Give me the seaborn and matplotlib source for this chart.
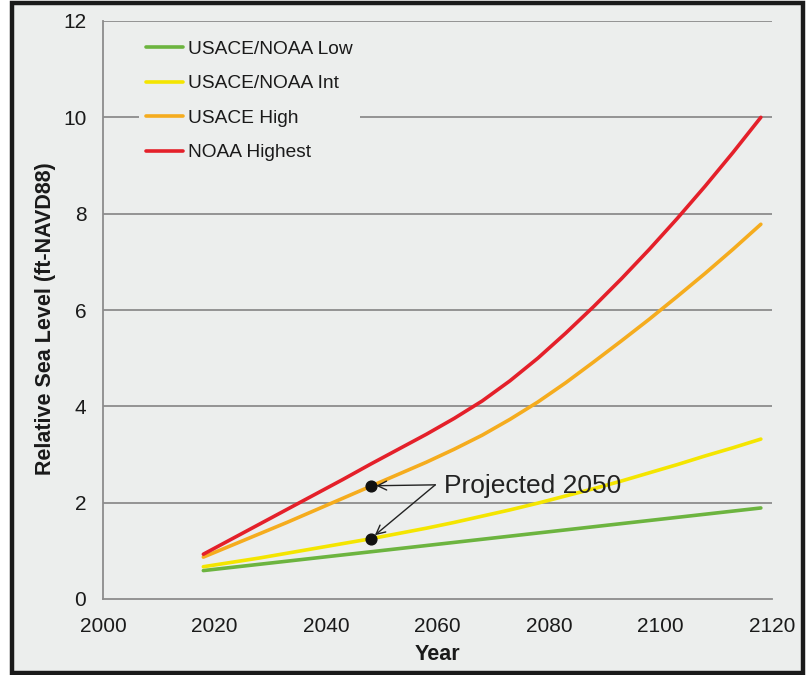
import matplotlib
matplotlib.use("Agg")
import matplotlib.pyplot as plt
import matplotlib.patches as mpatches
import seaborn as sns
import pandas as pd

# ---- data ----
years = [2018, 2023, 2028, 2033, 2038, 2043, 2048, 2053, 2058, 2063, 2068,
         2073, 2078, 2083, 2088, 2093, 2098, 2103, 2108, 2113, 2118]
low = [0.59, 0.655, 0.72, 0.785, 0.85, 0.915, 0.98, 1.045, 1.11, 1.175, 1.24,
       1.305, 1.37, 1.435, 1.50, 1.565, 1.63, 1.695, 1.76, 1.825, 1.89]
intermediate = [0.67, 0.76, 0.85, 0.95, 1.05, 1.15, 1.25, 1.36, 1.47, 1.59, 1.72,
                1.85, 1.99, 2.14, 2.29, 2.45, 2.62, 2.79, 2.97, 3.14, 3.32]
high = [0.87, 1.11, 1.35, 1.59, 1.84, 2.09, 2.34, 2.59, 2.84, 3.11, 3.40,
        3.73, 4.09, 4.49, 4.92, 5.36, 5.81, 6.28, 6.76, 7.26, 7.78]
highest = [0.93, 1.24, 1.55, 1.86, 2.17, 2.48, 2.80, 3.11, 3.42, 3.75, 4.11,
           4.53, 5.00, 5.52, 6.07, 6.65, 7.26, 7.90, 8.57, 9.27, 10.00]
series_names = ["USACE/NOAA Low", "USACE/NOAA Int", "USACE High", "NOAA Highest"]
series_colors = ["#6cb43f", "#f4e500", "#f5ac1e", "#e4202a"]
proj_years = [2048, 2048]
proj_values = [2.35, 1.25]
proj_label = "Projected 2050"
x_ticks = [2000, 2020, 2040, 2060, 2080, 2100, 2120]
y_ticks = [0, 2, 4, 6, 8, 10, 12]

rows = []
for name, vals in zip(series_names, [low, intermediate, high, highest]):
    for yr, v in zip(years, vals):
        rows.append({"Year": yr, "Level": v, "Scenario": name})
df = pd.DataFrame(rows)

sns.set_theme(style="white")
plt.rcParams["font.family"] = ["Liberation Sans", "DejaVu Sans"]

bg = "#eceeed"
fig = plt.figure(figsize=(8.07, 6.75), dpi=100)
fig.patch.set_facecolor("white")
# light panel + dark frame
fig.add_artist(mpatches.Rectangle((12 / 807, 1 - 673 / 675), (803 - 12) / 807, (673 - 3) / 675,
                                  transform=fig.transFigure, facecolor=bg,
                                  edgecolor="#1a1a1a", linewidth=3.2, zorder=0))

ax = fig.add_axes([103 / 807, 1 - 599 / 675, (772 - 103) / 807, (599 - 21) / 675])
ax.set_facecolor(bg)
ax.patch.set_alpha(0)

sns.lineplot(data=df, x="Year", y="Level", hue="Scenario", hue_order=series_names,
             palette=series_colors, linewidth=2.6, ax=ax, zorder=3)

ax.set_xlim(2000, 2120)
ax.set_ylim(0, 12)
ax.set_xticks(x_ticks)
ax.set_yticks(y_ticks)
ax.tick_params(axis="both", length=0, labelsize=15, colors="#1a1a1a")
ax.tick_params(axis="x", pad=13)
ax.tick_params(axis="y", pad=12)
for yv in y_ticks[1:]:
    ax.axhline(yv, color="#8c8c8c", linewidth=1.3, zorder=1)
for s in ["top", "right"]:
    ax.spines[s].set_visible(False)
for s in ["left", "bottom"]:
    ax.spines[s].set_color("#8c8c8c")
    ax.spines[s].set_linewidth(1.3)

ax.set_xlabel("Year", fontsize=15.5, fontweight="bold", color="#1a1a1a")
ax.set_ylabel("Relative Sea Level (ft-NAVD88)", fontsize=15.5, fontweight="bold",
              color="#1a1a1a")
ax.xaxis.set_label_coords(0.5, -0.077)
ax.yaxis.set_label_coords(-0.071, 0.485)

# projected 2050 markers and arrows
ax.scatter(proj_years, proj_values, s=60, color="#111111", zorder=5)
tail = (2059.6, 2.37)
for px, pv in zip(proj_years, proj_values):
    ax.annotate("", xy=(px, pv), xytext=tail,
                arrowprops=dict(arrowstyle="->", color="#222222", lw=1.0,
                                shrinkA=0, shrinkB=4, mutation_scale=16), zorder=4)
ax.text(2061.2, 2.20, proj_label, fontsize=19, color="#222222", va="baseline", ha="left", zorder=6)

leg = ax.legend(loc="upper left", bbox_to_anchor=(0.054, 0.978), fontsize=13.8,
                frameon=True, facecolor=bg, edgecolor="none", framealpha=1,
                handlelength=1.96, handletextpad=0.26, labelspacing=0.89,
                borderpad=0.35, borderaxespad=0)
for line in leg.get_lines():
    line.set_linewidth(2.6)
for t in leg.get_texts():
    t.set_color("#1a1a1a")
leg.set_zorder(2)

fig.savefig("out.png", dpi=100, facecolor=fig.get_facecolor())
